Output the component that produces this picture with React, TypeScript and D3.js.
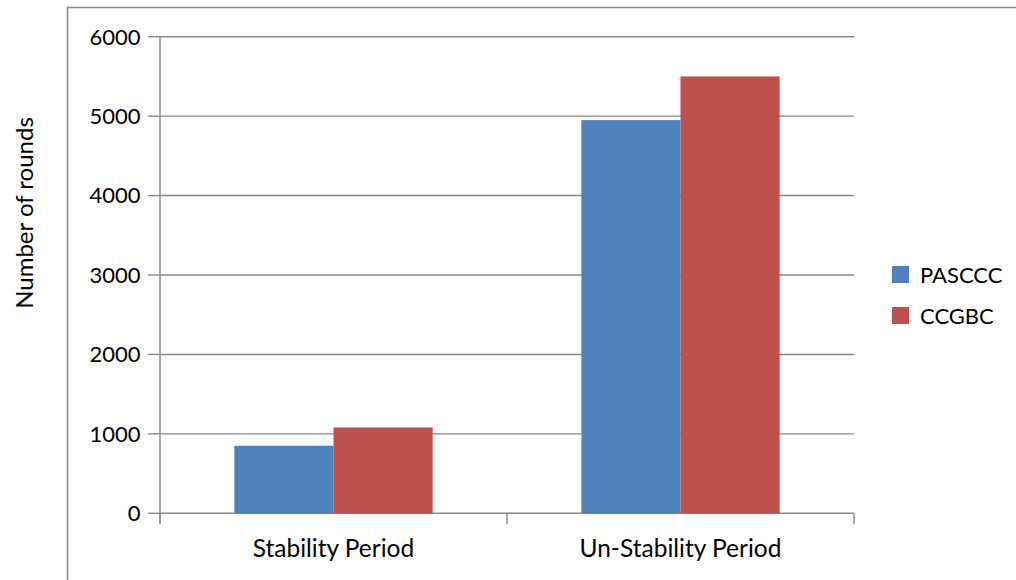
import React from "react";
import * as d3 from "d3";

const categories = ["Stability Period", "Un-Stability Period"];
const seriesNames = ["PASCCC", "CCGBC"];
const pascccValues = [850, 4950];
const ccgbcValues = [1080, 5500];
const yTicks = [0, 1000, 2000, 3000, 4000, 5000, 6000];
const seriesColors = ["#4F81BD", "#C0504D"];

const W = 1016;
const H = 580;
const plot = { left: 160, right: 854, top: 36.7, bottom: 513.3 };
const FONT = "Lato, 'Open Sans', sans-serif";
const GRID = "#888888";

export default function App() {
  const seriesValues = [pascccValues, ccgbcValues];
  const y = d3.scaleLinear().domain([0, 6000]).range([plot.bottom, plot.top]);
  const x0 = d3.scaleBand<string>().domain(categories).range([plot.left, plot.right]).padding(0);
  const x1 = d3
    .scaleBand<string>()
    .domain(seriesNames)
    .range([0, x0.bandwidth()])
    .paddingInner(0)
    .paddingOuter(0.75);

  const catEdges = [plot.left, ...categories.map((c) => (x0(c) as number) + x0.bandwidth())];

  return (
    <svg
      width={W}
      height={H}
      style={{ position: "absolute", left: 0, top: 0, background: "#fff" }}
      fontFamily={FONT}
    >
      {/* chart area frame */}
      <rect x={67.5} y={7.5} width={W} height={H} fill="none" stroke={GRID} strokeWidth={1.5} />

      {/* horizontal gridlines */}
      {yTicks.map((t) => (
        <line
          key={"g" + t}
          x1={plot.left}
          x2={plot.right}
          y1={y(t)}
          y2={y(t)}
          stroke={GRID}
          strokeWidth={1.4}
        />
      ))}

      {/* bars */}
      {categories.map((c, ci) =>
        seriesNames.map((s, si) => {
          const v = seriesValues[si][ci];
          const bx = (x0(c) as number) + (x1(s) as number);
          return (
            <rect
              key={c + s}
              x={bx}
              y={y(v)}
              width={x1.bandwidth()}
              height={plot.bottom - y(v)}
              fill={seriesColors[si]}
            />
          );
        })
      )}

      {/* y axis */}
      <line x1={plot.left} x2={plot.left} y1={plot.top} y2={plot.bottom + 10} stroke={GRID} strokeWidth={1.4} />
      {yTicks.map((t) => (
        <g key={"t" + t}>
          <line x1={plot.left - 12} x2={plot.left} y1={y(t)} y2={y(t)} stroke={GRID} strokeWidth={1.4} />
          <text x={plot.left - 19.5} y={y(t)} dy="0.36em" textAnchor="end" fontSize={22} fill="#000">
            {t}
          </text>
        </g>
      ))}

      {/* x axis ticks and labels */}
      {catEdges.map((e, i) => (
        <line key={"xt" + i} x1={e} x2={e} y1={plot.bottom} y2={plot.bottom + 11} stroke={GRID} strokeWidth={1.4} />
      ))}
      {categories.map((c) => (
        <text
          key={"xl" + c}
          x={(x0(c) as number) + x0.bandwidth() / 2}
          y={556.5}
          textAnchor="middle"
          fontSize={24.5}
          fill="#000"
        >
          {c}
        </text>
      ))}

      {/* y axis title */}
      <text
        transform={`translate(33, 213) rotate(-90)`}
        textAnchor="middle"
        fontSize={24}
        fill="#000"
      >
        Number of rounds
      </text>

      {/* legend */}
      {seriesNames.map((s, i) => (
        <g key={"lg" + s} transform={`translate(892, ${266 + i * 41})`}>
          <rect x={0} y={0} width={17} height={17} fill={seriesColors[i]} />
          <text x={28} y={17} fontSize={22} fill="#000">
            {s}
          </text>
        </g>
      ))}
    </svg>
  );
}
